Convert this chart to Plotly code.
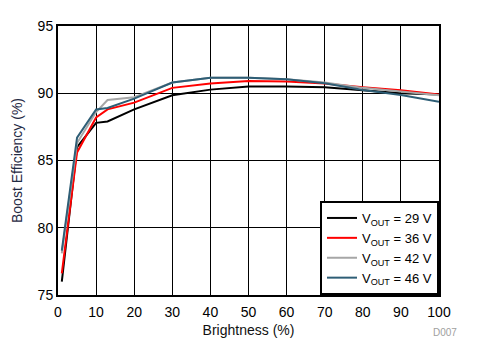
import plotly.graph_objects as go

brightness = [1, 5, 10, 13, 20, 30, 40, 50, 60, 70, 80, 90, 100]
eff_29 = [76.0, 86.0, 87.8, 87.9, 88.8, 89.85, 90.27, 90.5, 90.5, 90.45, 90.22, 90.0, 89.9]
eff_36 = [76.6, 85.6, 88.2, 88.8, 89.3, 90.4, 90.72, 90.92, 90.87, 90.72, 90.45, 90.22, 89.9]
eff_42 = [78.1, 86.3, 88.6, 89.5, 89.7, 90.8, 91.16, 91.16, 91.05, 90.8, 90.4, 90.1, 89.85]
eff_46 = [78.3, 86.7, 88.8, 88.9, 89.6, 90.8, 91.16, 91.16, 91.04, 90.75, 90.24, 89.87, 89.37]

series = [
    ("V<sub>OUT</sub> = 29 V", eff_29, "#000000"),
    ("V<sub>OUT</sub> = 36 V", eff_36, "#ff0000"),
    ("V<sub>OUT</sub> = 42 V", eff_42, "#a6a6a6"),
    ("V<sub>OUT</sub> = 46 V", eff_46, "#2e5e76"),
]

x_ticks = [0, 10, 20, 30, 40, 50, 60, 70, 80, 90, 100]
y_ticks = [75, 80, 85, 90, 95]

fig = go.Figure()
for name, ys, col in series:
    fig.add_trace(go.Scatter(x=brightness, y=ys, mode="lines", name=name,
                             line=dict(color=col, width=2)))

font = "Liberation Sans, Arial, sans-serif"
fig.update_layout(
    width=469, height=354,
    margin=dict(l=50, r=38, t=18, b=67, autoexpand=False),
    paper_bgcolor="white", plot_bgcolor="white",
    font=dict(family=font, size=14, color="#000000"),
    showlegend=True,
    legend=dict(x=1, y=0, xanchor="right", yanchor="bottom",
                bgcolor="white", bordercolor="black", borderwidth=2,
                font=dict(size=13, color="#000000"), tracegroupgap=0,
                itemwidth=30),
    xaxis=dict(range=[0, 100], tickvals=x_ticks, showgrid=True, gridcolor="black",
               gridwidth=1, showline=True, linecolor="black", linewidth=2, mirror=True,
               ticks="", zeroline=False, automargin=False, ticklabelstandoff=3,
               tickfont=dict(size=14),
               title=dict(text="Brightness (%)", font=dict(size=14, color="#111111"), standoff=6)),
    yaxis=dict(range=[75, 95], tickvals=y_ticks, showgrid=True, gridcolor="black",
               gridwidth=1, showline=True, linecolor="black", linewidth=2, mirror=True,
               ticks="", zeroline=False, automargin=False,
               tickfont=dict(size=14),
               title=dict(text="Boost Efficiency (%)", font=dict(size=14, color="#1f2a44"), standoff=12)),
)
fig.add_annotation(text="D007", xref="paper", yref="paper", x=1.053, y=-0.141,
                   xanchor="right", yanchor="middle", showarrow=False,
                   font=dict(size=10, color="#a0a0a0"))
fig.write_html("out.html")
